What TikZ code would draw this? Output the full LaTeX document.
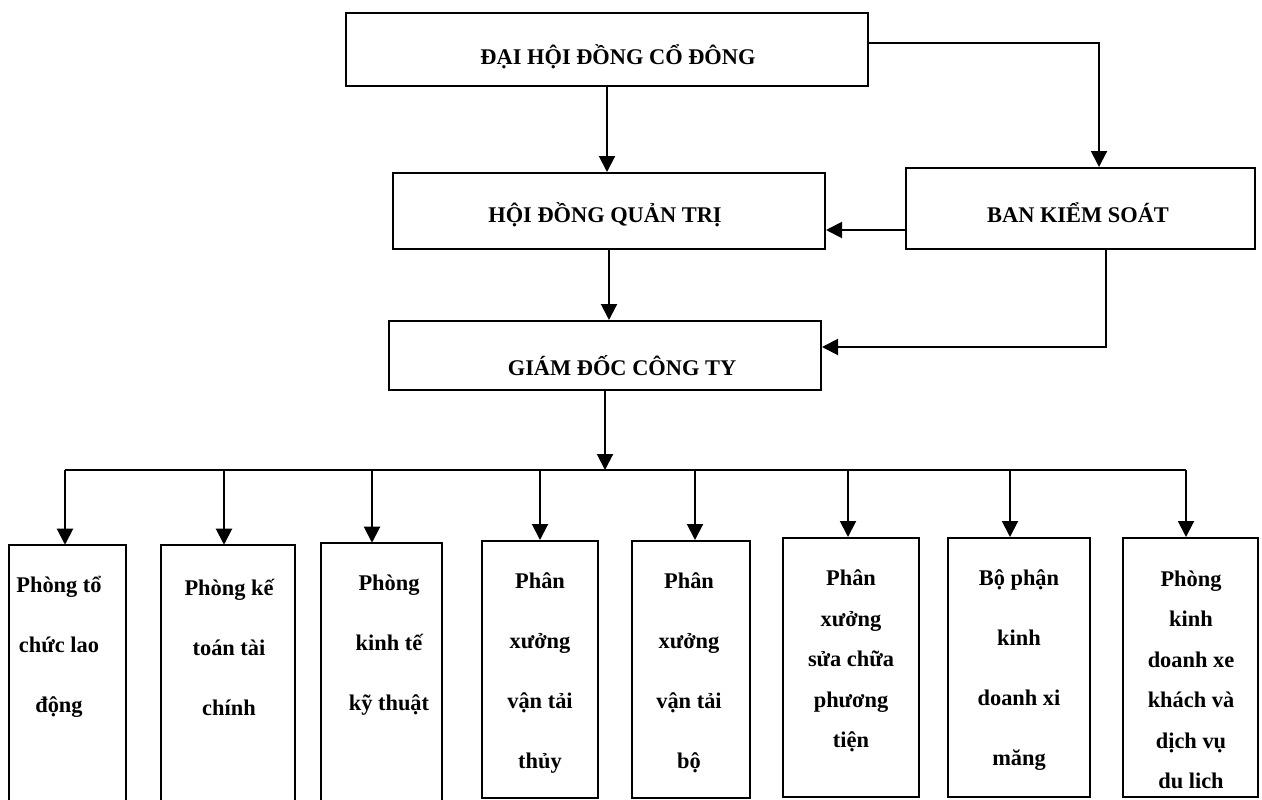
\documentclass[tikz,border=0pt]{standalone}
\usepackage{fontspec}
\setmainfont{Liberation Serif}
\usetikzlibrary{arrows.meta,fit}

\begin{document}
\begin{tikzpicture}[x=0.75pt,y=-0.75pt,
  box/.style={draw, line width=1.5pt, inner sep=0pt},
  frame/.style={inner sep=0pt},
  conn/.style={line width=1.5pt},
  arr/.style={line width=1.5pt, -{Triangle[length=12pt,width=12pt]}},
  head/.style={font=\bfseries\fontsize{16.8}{20}\selectfont, inner sep=0pt},
  wide/.style={font=\bfseries\fontsize{16.8}{45}\selectfont, align=center, inner sep=0pt},
  tight/.style={font=\bfseries\fontsize{16.8}{30.4}\selectfont, align=center, inner sep=0pt}]

\useasboundingbox (0,0) rectangle (1262,799);

% upper levels
\node[box, fit={(346,13) (868,86)}] (dh) {};
\node[box, fit={(393,173) (825,249)}] (hq) {};
\node[box, fit={(906,168) (1255,249)}] (bk) {};
\node[box, fit={(389,321) (821,390)}] (gd) {};

\node[head] (tdh) at (618,57) {ĐẠI HỘI ĐỒNG CỔ ĐÔNG};
\node[head] (thq) at (605,215) {HỘI ĐỒNG QUẢN TRỊ};
\node[head] (tbk) at (1078,213) {BAN KIỂM SOÁT};
\node[head] (tgd) at (622,366) {GIÁM ĐỐC CÔNG TY};

% departments (the first three run past the lower edge)
\node[frame, fit={(9,545) (126,830)}] (b1) {};
\node[frame, fit={(161,545) (295,830)}] (b2) {};
\node[frame, fit={(321,543) (442,830)}] (b3) {};
\draw[conn] (b1.south west) -- (b1.north west) -- (b1.north east) -- (b1.south east);
\draw[conn] (b2.south west) -- (b2.north west) -- (b2.north east) -- (b2.south east);
\draw[conn] (b3.south west) -- (b3.north west) -- (b3.north east) -- (b3.south east);
\node[box, fit={(482,541) (598,798)}] (b4) {};
\node[box, fit={(632,541) (750,798)}] (b5) {};
\node[box, fit={(783,538) (919,797)}] (b6) {};
\node[box, fit={(948,538) (1090,797)}] (b7) {};
\node[box, fit={(1123,538) (1258,797)}] (b8) {};

\node[wide] (t1) at (59,647) {Phòng tổ\\chức lao\\động};
\node[wide] (t2) at (229,647) {Phòng kế\\toán tài\\chính};
\node[wide] (t3) at (389,645) {Phòng\\kinh tế\\kỹ thuật};
\node[wide] (t4) at (540,673) {Phân\\xưởng\\vận tải\\thủy};
\node[wide] (t5) at (689,673) {Phân\\xưởng\\vận tải\\bộ};
\node[tight] (t6) at (851,661) {Phân\\xưởng\\sửa chữa\\phương\\tiện};
\node[wide] (t7) at (1019,670) {Bộ phận\\kinh\\doanh xi\\măng};
\node[tight] (t8) at (1191,680) {Phòng\\kinh\\doanh xe\\khách và\\dịch vụ\\du lich};

% links between the upper levels
\coordinate (c1) at (1099,43);
\coordinate (c2) at (866,230);
\coordinate (c3) at (1106,347);
\draw[arr] (dh.south) -- (dh.south |- hq.north);
\draw[arr] (dh.east |- c1) -- (c1) -- (c1 |- bk.north);
\draw[arr] (bk.west |- c2) -- (hq.east |- c2);
\draw[arr] (hq.south) -- (hq.south |- gd.north);
\draw[arr] (bk.south -| c3) -- (c3) -- (gd.east |- c3);

% distribution bar to the departments
\coordinate (d1) at (65,470);
\coordinate (d2) at (224,470);
\coordinate (d3) at (372,470);
\coordinate (d4) at (540,470);
\coordinate (d5) at (695,470);
\coordinate (d6) at (848,470);
\coordinate (d7) at (1010,470);
\coordinate (d8) at (1186,470);
\draw[arr] (gd.south) -- (gd.south |- d1);
\draw[conn] (d1) -- (d8);
\draw[arr] (d1) -- (d1 |- b1.north);
\draw[arr] (d2) -- (d2 |- b2.north);
\draw[arr] (d3) -- (d3 |- b3.north);
\draw[arr] (d4) -- (d4 |- b4.north);
\draw[arr] (d5) -- (d5 |- b5.north);
\draw[arr] (d6) -- (d6 |- b6.north);
\draw[arr] (d7) -- (d7 |- b7.north);
\draw[arr] (d8) -- (d8 |- b8.north);
\end{tikzpicture}
\end{document}
